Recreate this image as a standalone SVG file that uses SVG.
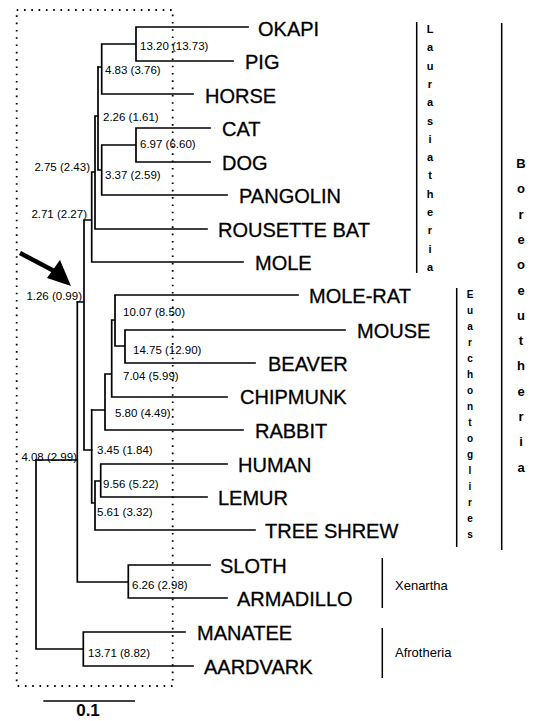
<svg xmlns="http://www.w3.org/2000/svg" width="534" height="721" viewBox="0 0 534 721">
<style>
.t{font-family:"Liberation Sans",Arial,sans-serif;font-size:20px;fill:#000;stroke:#000;stroke-width:0.3}
.n{font-family:"Liberation Sans",Arial,sans-serif;font-size:11.5px;fill:#000}
.g{font-family:"Liberation Sans",Arial,sans-serif;fill:#000}
.br{fill:none;stroke:#000;stroke-width:1.7;stroke-linecap:square}
.bar{fill:none;stroke:#000;stroke-width:1.5}
</style>
<rect width="534" height="721" fill="#fff"/>
<rect x="16.7" y="10" width="156" height="676" fill="none" stroke="#000" stroke-width="1.8" stroke-dasharray="1.6 5.7"/>
<g id="connectors" class="br">
<path d="M136,27H248M136,61H233M136,27V61M101.7,44H136M101.7,94H193M101.7,44V94M98,67H101.7"/>
<path d="M136,128H210M136,162H210M136,128V162M101.7,145H136M101.7,195H227M101.7,145V195M98,170H101.7M98,67V170"/>
<path d="M95,116H98M95,229H207M95,116V229M91.7,172H95M91.7,262H243M91.7,172V262M84,220H91.7M84,220V450M84,450H91.7M77.3,302H84"/>
<path d="M115,295H298M125,330H345M125,363H255M125,330V363M115,346H125M115,295V346M111.7,320H115M111.7,397H227M111.7,320V397M105,374H111.7M105,430H243M105,374V430M91.7,410H105"/>
<path d="M100.7,464H227M100.7,497H207M100.7,464V497M95,481H100.7M95,530H255M95,481V530M91.7,503H95M91.7,410V503"/>
<path d="M128.3,565H210M128.3,598H227M128.3,565V598M77.3,582H128.3M77.3,302V582M36,460H77.3"/>
<path d="M83.3,632H185M83.3,666H193M83.3,632V666M36,649H83.3M36,460V649"/>
</g>
<g id="arrow">
<path d="M20,253L56,272" stroke="#000" stroke-width="4.5" fill="none"/>
<polygon points="71,286 47,278 60,260" fill="#000"/>
</g>
<g id="scale">
<path d="M43.3,701H135" stroke="#000" stroke-width="1.7"/>
<text x="88" y="716" text-anchor="middle" class="g" font-size="17" font-weight="bold">0.1</text>
</g>
<g id="okapi"><text class="t" x="258" y="36">OKAPI</text></g>
<g id="pig"><text class="t" x="245" y="69">PIG</text></g>
<g id="horse"><text class="t" x="205" y="103">HORSE</text></g>
<g id="cat"><text class="t" x="222" y="136">CAT</text></g>
<g id="dog"><text class="t" x="222" y="170">DOG</text></g>
<g id="pangolin"><text class="t" x="239" y="203">PANGOLIN</text></g>
<g id="rousette-bat"><text class="t" x="218" y="237">ROUSETTE BAT</text></g>
<g id="mole"><text class="t" x="255" y="270">MOLE</text></g>
<g id="mole-rat"><text class="t" x="309" y="303">MOLE-RAT</text></g>
<g id="mouse"><text class="t" x="357" y="338">MOUSE</text></g>
<g id="beaver"><text class="t" x="268" y="371">BEAVER</text></g>
<g id="chipmunk"><text class="t" x="240" y="404">CHIPMUNK</text></g>
<g id="rabbit"><text class="t" x="255" y="438">RABBIT</text></g>
<g id="human"><text class="t" x="238" y="472">HUMAN</text></g>
<g id="lemur"><text class="t" x="218" y="505">LEMUR</text></g>
<g id="tree-shrew"><text class="t" x="265" y="538">TREE SHREW</text></g>
<g id="sloth"><text class="t" x="220" y="573">SLOTH</text></g>
<g id="armadillo"><text class="t" x="237" y="606">ARMADILLO</text></g>
<g id="manatee"><text class="t" x="197" y="640">MANATEE</text></g>
<g id="aardvark"><text class="t" x="204" y="674">AARDVARK</text></g>
<g id="node-labels">
<text class="n" x="140" y="50">13.20 (13.73)</text>
<text class="n" x="105" y="74">4.83 (3.76)</text>
<text class="n" x="103" y="121">2.26 (1.61)</text>
<text class="n" x="140" y="148">6.97 (6.60)</text>
<text class="n" x="105" y="179">3.37 (2.59)</text>
<text class="n" x="90" y="171" text-anchor="end">2.75 (2.43)</text>
<text class="n" x="87" y="218" text-anchor="end">2.71 (2.27)</text>
<text class="n" x="82" y="300" text-anchor="end">1.26 (0.99)</text>
<text class="n" x="123" y="316">10.07 (8.50)</text>
<text class="n" x="133" y="354">14.75 (12.90)</text>
<text class="n" x="123" y="380">7.04 (5.99)</text>
<text class="n" x="115" y="417">5.80 (4.49)</text>
<text class="n" x="97" y="454">3.45 (1.84)</text>
<text class="n" x="103" y="488">9.56 (5.22)</text>
<text class="n" x="97" y="516">5.61 (3.32)</text>
<text class="n" x="77" y="461" text-anchor="end">4.08 (2.99)</text>
<text class="n" x="132" y="589">6.26 (2.98)</text>
<text class="n" x="88" y="657">13.71 (8.82)</text>
</g>
<g id="laurasiatheria">
<path class="bar" d="M416.7,22V273"/>
<text class="g" font-size="11" font-weight="bold" text-anchor="middle"><tspan x="430" y="33">L</tspan><tspan x="430" y="51.3">a</tspan><tspan x="430" y="69.6">u</tspan><tspan x="430" y="87.9">r</tspan><tspan x="430" y="106.2">a</tspan><tspan x="430" y="124.5">s</tspan><tspan x="430" y="142.8">i</tspan><tspan x="430" y="161.1">a</tspan><tspan x="430" y="179.4">t</tspan><tspan x="430" y="197.7">h</tspan><tspan x="430" y="216">e</tspan><tspan x="430" y="234.3">r</tspan><tspan x="430" y="252.6">i</tspan><tspan x="430" y="270.9">a</tspan></text>
</g>
<g id="euarchontoglires">
<path class="bar" d="M456.7,288V547"/>
<text class="g" font-size="10" font-weight="bold" text-anchor="middle"><tspan x="470" y="298">E</tspan><tspan x="470" y="314">u</tspan><tspan x="470" y="330">a</tspan><tspan x="470" y="346">r</tspan><tspan x="470" y="362">c</tspan><tspan x="470" y="378">h</tspan><tspan x="470" y="394">o</tspan><tspan x="470" y="410">n</tspan><tspan x="470" y="426">t</tspan><tspan x="470" y="442">o</tspan><tspan x="470" y="458">g</tspan><tspan x="470" y="474">l</tspan><tspan x="470" y="490">i</tspan><tspan x="470" y="506">r</tspan><tspan x="470" y="522">e</tspan><tspan x="470" y="538">s</tspan></text>
</g>
<g id="boreoeutheria">
<path class="bar" d="M501.7,23V550"/>
<text class="g" font-size="13" font-weight="bold" text-anchor="middle"><tspan x="521" y="168">B</tspan><tspan x="521" y="193.3">o</tspan><tspan x="521" y="218.6">r</tspan><tspan x="521" y="243.9">e</tspan><tspan x="521" y="269.2">o</tspan><tspan x="521" y="294.5">e</tspan><tspan x="521" y="319.8">u</tspan><tspan x="521" y="345.1">t</tspan><tspan x="521" y="370.4">h</tspan><tspan x="521" y="395.7">e</tspan><tspan x="521" y="421">r</tspan><tspan x="521" y="446.3">i</tspan><tspan x="521" y="471.6">a</tspan></text>
</g>
<g id="xenartha">
<path class="bar" d="M382.3,558V608"/>
<text class="g" font-size="13" x="395" y="590">Xenartha</text>
</g>
<g id="afrotheria">
<path class="bar" d="M382.3,628V678"/>
<text class="g" font-size="13" x="395" y="657">Afrotheria</text>
</g>
</svg>
